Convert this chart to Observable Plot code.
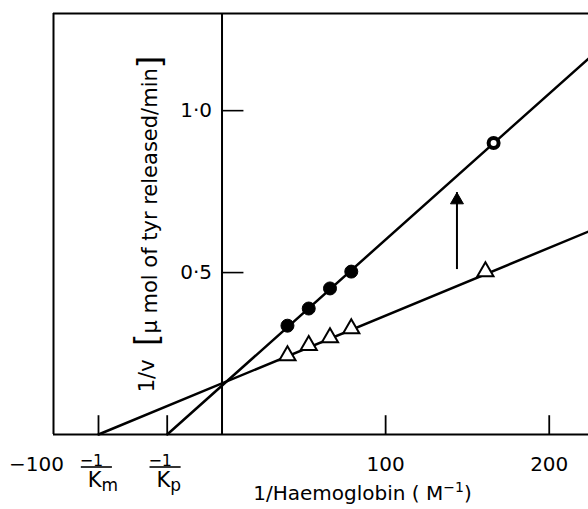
<!DOCTYPE html>
<html><head><meta charset="utf-8">
<script src="https://cdn.jsdelivr.net/npm/d3@7"></script>
<script src="https://cdn.jsdelivr.net/npm/@observablehq/plot@0.6"></script>
<style>html,body{margin:0;padding:0;background:#fff}#chart svg{display:block}</style>
</head><body><div id="chart"></div>
<script>
// Filled circles (with inhibitor) and open triangles (control)
const circleX = [40, 53, 66, 79, 166];
const circleY = [0.336, 0.389, 0.451, 0.503, 0.900];
const circleOpen = [false, false, false, false, true];
const triangleX = [40, 53, 66, 79, 161];
const triangleY = [0.244, 0.275, 0.299, 0.327, 0.503];

// Fitted Lineweaver–Burk lines: x-intercepts (-1/K) and y-intercepts (1/V)
const kmX = -75.5;   // -1/Km
const kpX = -33.5;   // -1/Kp
const triangleYInt = 0.158;
const circleYInt = 0.151;

// Axes
const xMin = -103, xMax = 224, yMax = 1.3;
const xTickValues = [100, 200];
const xTickLabels = ["100", "200"];
const xOuterValue = -100, xOuterLabel = "−100";
const yTickValues = [0.5, 1.0];
const yTickLabels = ["0·5", "1·0"];
const fractionLabels = [
  {x: kmX, num: "−1", den: "K", sub: "m"},
  {x: kpX, num: "−1", den: "K", sub: "p"}
];
const arrowData = [{x: 143.6, from: 0.534, to: 0.747}];
const xTitleMain = "1/Haemoglobin ( M", xTitleSup = "−1", xTitleEnd = ")";
const xTitle = xTitleMain + xTitleSup + xTitleEnd;
const yTitle = "1/v [μ mol of tyr released/min]";

const circles = circleX.map((x, i) => ({x, y: circleY[i], open: circleOpen[i]}));
const triangles = triangleX.map((x, i) => ({x, y: triangleY[i]}));
const fitLine = (xInt, yInt) => [{x: xInt, y: 0}, {x: xMax, y: yInt * (1 - xMax / xInt)}];

const W = 588, H = 509, mL = 53, mT = 13, y0px = 434;
const font = "DejaVu Sans";

const plot = Plot.plot({
  width: W, height: H,
  marginLeft: mL, marginRight: 0, marginTop: mT, marginBottom: H - y0px,
  x: {domain: [xMin, xMax], axis: null},
  y: {domain: [0, yMax], axis: null},
  style: {fontFamily: font, background: "white", color: "black"},
  marks: [
    // frame (top, left, bottom) and y-axis at x = 0
    Plot.ruleY([0, yMax], {stroke: "black", strokeWidth: 2}),
    Plot.ruleX([xMin], {stroke: "black", strokeWidth: 2}),
    Plot.ruleX([0], {stroke: "black", strokeWidth: 2}),
    // inward ticks
    Plot.ruleY(yTickValues, {x1: 0, x2: 13.4, stroke: "black", strokeWidth: 1.6}),
    Plot.ruleX([...xTickValues, kmX, kpX], {y1: 0, y2: 0.058, stroke: "black", strokeWidth: 1.8}),
    // fitted lines
    Plot.line(fitLine(kmX, triangleYInt), {x: "x", y: "y", stroke: "black", strokeWidth: 2.5}),
    Plot.line(fitLine(kpX, circleYInt), {x: "x", y: "y", stroke: "black", strokeWidth: 2.5}),
    // data points
    Plot.dot(triangles, {x: "x", y: "y", symbol: "triangle", r: 6, fill: "white", stroke: "black", strokeWidth: 2}),
    Plot.dot(circles.filter(d => !d.open), {x: "x", y: "y", r: 6.5, fill: "black", stroke: "black", strokeWidth: 1}),
    Plot.dot(circles.filter(d => d.open), {x: "x", y: "y", r: 5, fill: "white", stroke: "black", strokeWidth: 4}),
    // arrow
    Plot.ruleX(arrowData, {x: "x", y1: "from", y2: "to", stroke: "black", strokeWidth: 2, insetTop: 8}),
    Plot.dot(arrowData, {x: "x", y: "to", symbol: "triangle", r: 4.8, fill: "black", stroke: "black", strokeWidth: 1, dy: 7.5}),
    // tick labels
    Plot.text(xTickValues, {x: d => d, y: 0, text: (d, i) => xTickLabels[i], dy: 30, fontSize: 20, fill: "black"}),
    Plot.text([xOuterValue], {x: d => d, y: 0, text: () => xOuterLabel, dx: -22, dy: 30, fontSize: 20, fill: "black"}),
    Plot.text(yTickValues, {x: 0, y: d => d, text: (d, i) => yTickLabels[i], textAnchor: "end", dx: -10, fontSize: 20, fill: "black"}),
    // -1/K fraction labels
    Plot.text(fractionLabels, {x: "x", y: 0, text: "num", dx: -7, dy: 26, fontSize: 16, fill: "black"}),
    Plot.ruleY(fractionLabels, {y: () => 0, x1: d => d.x - 10.5, x2: d => d.x + 8.5, dy: 32.5, stroke: "black", strokeWidth: 1.6}),
    Plot.text(fractionLabels, {x: "x", y: 0, text: "den", textAnchor: "end", dx: 3, dy: 46, fontSize: 21, fill: "black"}),
    Plot.text(fractionLabels, {x: "x", y: 0, text: "sub", textAnchor: "start", dx: 3, dy: 51.5, fontSize: 17, fill: "black"}),
    // axis titles
    Plot.text([xTitle], {frameAnchor: "bottom", textAnchor: "middle", lineAnchor: "middle", dx: 41.5, dy: 59.5, fontSize: 20, fill: "black"}),
    Plot.text([yTitle], {frameAnchor: "left", textAnchor: "middle", lineAnchor: "middle", rotate: -90, dx: 94, dy: 0, fontSize: 21, fill: "black"})
  ]
});

const ns = "http://www.w3.org/2000/svg";
const span = (txt, attrs = {}) => {
  const ts = document.createElementNS(ns, "tspan");
  for (const [k, v] of Object.entries(attrs)) ts.setAttribute(k, v);
  ts.textContent = txt;
  return ts;
};
plot.querySelectorAll("text").forEach(t => {
  // enlarge the brackets of the y title
  if (t.textContent === yTitle) {
    const parts = yTitle.split(/([\[\]])/).filter(s => s.length);
    t.textContent = "";
    parts.forEach(p => {
      if (p === "[" || p === "]") {
        t.appendChild(span(p, {"font-size": 32, dy: "3"}));
        t.appendChild(span("", {dy: "-3"}));
      } else {
        t.appendChild(span(p === "1/v " ? "1/v  " : p));
      }
    });
  }
  // superscript in the x title
  if (t.textContent === xTitle) {
    t.textContent = "";
    t.appendChild(span(xTitleMain));
    t.appendChild(span(xTitleSup, {"font-size": 14, dy: "-8"}));
    t.appendChild(span(xTitleEnd, {dy: "8"}));
  }
});

document.getElementById("chart").appendChild(plot);
</script>
</body></html>
